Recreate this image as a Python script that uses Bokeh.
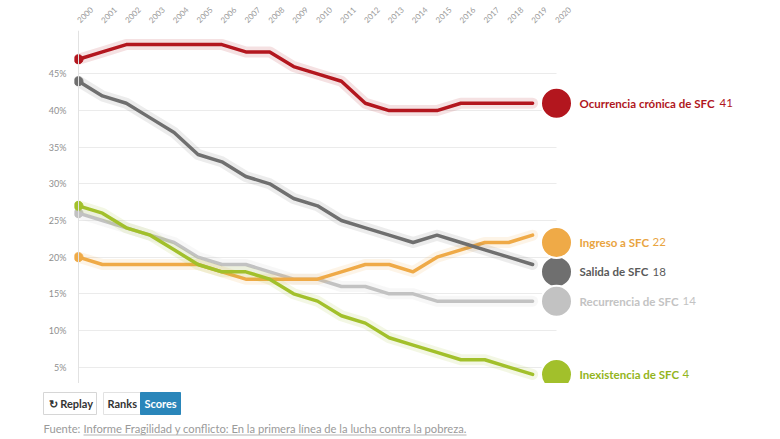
import math
from bokeh.plotting import figure
from bokeh.layouts import column
from bokeh.models import Range1d, FixedTicker, PrintfTickFormatter, Span, ColumnDataSource
from bokeh.core.properties import value
from bokeh.embed import file_html
from bokeh.resources import INLINE

# ---------------- data ----------------
years = list(range(2000, 2020))
cronica = [47, 48, 49, 49, 49, 49, 49, 48, 48, 46, 45, 44, 41, 40, 40, 40, 41, 41, 41, 41]
ingreso = [20, 19, 19, 19, 19, 19, 18, 17, 17, 17, 17, 18, 19, 19, 18, 20, 21, 22, 22, 23]
salida = [44, 42, 41, 39, 37, 34, 33, 31, 30, 28, 27, 25, 24, 23, 22, 23, 22, 21, 20, 19]
recurrencia = [26, 25, 24, 23, 22, 20, 19, 19, 18, 17, 17, 16, 16, 15, 15, 14, 14, 14, 14, 14]
inexistencia = [27, 26, 24, 23, 21, 19, 18, 18, 17, 15, 14, 12, 11, 9, 8, 7, 6, 6, 5, 4]

series_names = ["Ocurrencia crónica de SFC", "Ingreso a SFC", "Salida de SFC",
                "Recurrencia de SFC", "Inexistencia de SFC"]
end_values = [41, 22, 18, 14, 4]
x_ticks = list(range(2000, 2021))
y_ticks = [5, 10, 15, 20, 25, 30, 35, 40, 45]
button_texts = ["↻ Replay", "Ranks", "Scores"]
source_prefix = "Fuente:"
source_link = "Informe Fragilidad y conflicto: En la primera línea de la lucha contra la pobreza."

# ---------------- style / layout ----------------
line_colors = ["#b3161e", "#efaa47", "#6f6f6f", "#c2c2c2", "#a2c02b"]
text_colors = ["#b0161d", "#e9a43f", "#5a5a5a", "#c3c3c3", "#93b420"]
name_px = [136, 69, 69, 99, 99]
FONT = "Lato"

W = 780
H_MAIN, H_FOOT = 383, 56
FRAME_L, FRAME_T = 74, 30
X0_PX, PX_YEAR = 78, 23.9
Y5_PX, PX_PCT = 366.6, 7.33

x_start = years[0] - (X0_PX - FRAME_L) / PX_YEAR
x_end = x_start + (W - FRAME_L) / PX_YEAR
y_end = y_ticks[0] + (Y5_PX - FRAME_T) / PX_PCT
y_start = y_ticks[0] - (H_MAIN - Y5_PX) / PX_PCT

p = figure(width=W, height=H_MAIN, x_range=Range1d(x_start, x_end), y_range=Range1d(y_start, y_end),
           output_backend="svg", toolbar_location=None, x_axis_location="above",
           min_border_left=FRAME_L, min_border_right=0, min_border_top=FRAME_T, min_border_bottom=0)
p.frame_align = False
p.outline_line_color = None
p.background_fill_color = "white"
p.border_fill_color = "white"

xa = p.xaxis[0]
xa.ticker = FixedTicker(ticks=x_ticks)
xa.major_label_orientation = math.pi / 4
xa.major_label_text_font_size = "8px"
xa.major_label_text_color = "#9a9a9a"
xa.major_label_text_font = FONT
xa.axis_line_color = None
xa.major_tick_line_color = None
xa.minor_tick_line_color = None
xa.major_label_standoff = 3

ya = p.yaxis[0]
ya.ticker = FixedTicker(ticks=y_ticks)
ya.formatter = PrintfTickFormatter(format="%d%%")
ya.major_label_text_font_size = "9px"
ya.major_label_text_color = "#8f8f8f"
ya.major_label_text_font = FONT
ya.axis_line_color = None
ya.major_tick_line_color = None
ya.minor_tick_line_color = None
ya.major_label_standoff = 2

p.xgrid.visible = False
p.ygrid.ticker = FixedTicker(ticks=y_ticks)
p.ygrid.grid_line_color = "#ebebeb"
p.ygrid.grid_line_width = 1
try:
    p.ygrid.cross_bounds = (x_ticks[0], x_ticks[-1])
except Exception:
    p.ygrid.visible = False
    p.segment(x0=x_ticks[0], y0=y_ticks, x1=x_ticks[-1], y1=y_ticks, line_color="#ebebeb", line_width=1)

p.add_layout(Span(location=years[0], dimension="height", line_color="#e2e2e2", line_width=1))

series = [cronica, ingreso, salida, recurrencia, inexistencia]
draw_order = [3, 1, 2, 4, 0]
for i in draw_order:
    vals, c = series[i], line_colors[i]
    p.line(years, vals, line_width=11, line_color=c, line_alpha=0.13, line_join="round", line_cap="round")
    p.line(years, vals, line_width=3.5, line_color=c, line_join="round", line_cap="round")
    p.scatter([years[0]], [vals[0]], size=9, fill_color=c, line_color=c)

# end circles: dark gray underneath, others on top
for i in [2, 0, 1, 3, 4]:
    p.scatter([x_ticks[-1]], [end_values[i]], size=31, fill_color=line_colors[i],
              line_color="white", line_width=2)

lab = ColumnDataSource(dict(
    x=[x_ticks[-1]] * len(series_names), y=end_values, name=series_names,
    num=[str(v) for v in end_values], color=text_colors,
    off=[23 + w + 4 for w in name_px]))
p.text(x="x", y="y", text="name", source=lab, x_offset=23, text_font=value(FONT),
       text_font_style="bold", text_font_size="11.5px", text_baseline="middle", text_color="color")
p.text(x="x", y="y", text="num", source=lab, x_offset="off", text_font=value(FONT),
       text_font_size="11.5px", text_baseline="middle", text_color="color")

# ---------------- footer: buttons and source ----------------
f = figure(width=W, height=H_FOOT, x_range=Range1d(0, W), y_range=Range1d(H_FOOT, 0),
           output_backend="svg", toolbar_location=None, min_border=0,
           x_axis_location=None, y_axis_location=None)
f.frame_align = False
f.grid.visible = False
f.outline_line_color = None
f.background_fill_color = "white"
f.border_fill_color = "white"

btn = ColumnDataSource(dict(
    left=[43, 103, 140], right=[96, 140, 180], top=[9, 9, 9], bottom=[31, 31, 31],
    fill=["white", "white", "#2a86ba"], line=["#d6d6d6", "#e2e2e2", "#2a86ba"],
    tx=[48, 107, 144], text=button_texts, tcolor=["#333333", "#333333", "white"]))
f.quad(left="left", right="right", top="top", bottom="bottom", source=btn,
       fill_color="fill", line_color="line", line_width=1)
f.text(x="tx", y=20, text="text", source=btn, text_color="tcolor", text_font=value(FONT),
       text_font_style="bold", text_font_size="11px", text_baseline="middle")

f.text(x=[43], y=[45], text=[source_prefix], text_color="#9a9a9a", text_font=value(FONT),
       text_font_size="11.2px", text_baseline="middle")
f.text(x=[83], y=[45], text=[source_link], text_color="#9a9a9a", text_font=value(FONT),
       text_font_size="11.2px", text_baseline="middle")
f.segment(x0=[83], y0=[51.5], x1=[466], y1=[51.5], line_color="#b5b5b5", line_width=1)

open("out.html", "w").write(file_html(column(p, f, spacing=0), INLINE))
